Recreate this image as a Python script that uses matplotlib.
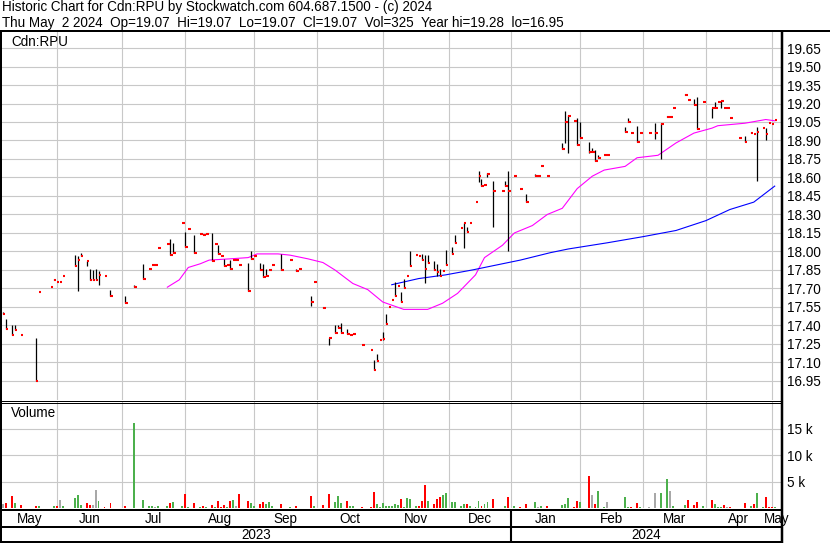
import numpy as np
import pandas as pd
import matplotlib
matplotlib.use("Agg")
import matplotlib.pyplot as plt
from matplotlib.lines import Line2D

plt.rcParams['font.family'] = ['Liberation Sans', 'DejaVu Sans']

# session number on a weekday calendar that starts Mon 1 May 2023
day = [5, 6, 8, 9, 11, 16, 17, 21, 22, 23, 24, 25, 29, 30, 31, 33, 34, 35, 36, 37,
       39, 41, 46, 49, 52, 54, 55, 56, 57, 60, 61, 62, 65, 66, 67, 69, 71, 72, 73, 75,
       76, 77, 78, 79, 80, 81, 82, 83, 84, 87, 88, 89, 91, 92, 93, 94, 95, 98, 101, 103,
       104, 108, 109, 112, 114, 116, 117, 118, 120, 121, 122, 125, 128, 129, 130, 131, 132, 133, 134, 135,
       136, 137, 138, 139, 140, 141, 143, 144, 145, 146, 147, 149, 150, 151, 152, 153, 155, 156, 158, 159,
       160, 161, 163, 164, 165, 166, 167, 169, 172, 173, 174, 176, 178, 180, 183, 184, 185, 187, 192, 193,
       194, 196, 197, 198, 201, 202, 203, 204, 206, 207, 213, 214, 215, 217, 218, 221, 223, 225, 227, 228,
       229, 233, 234, 236, 237, 239, 242, 243, 244, 245, 246, 247, 248, 251, 253, 255, 256, 257, 259, 260,
       261, 262, 263]
high = [17.51, 17.45, 17.40, 17.40, 17.32, 17.30, 17.67, 17.71, 17.78, 17.75, 17.75, 17.80, 17.97, 17.96, 17.99, 17.92, 17.86, 17.85, 17.86, 17.84,
        17.80, 17.69, 17.64, 17.73, 17.90, 17.86, 17.89, 17.89, 18.03, 18.06, 18.10, 18.07, 18.23, 18.16, 18.18, 18.13, 18.14, 18.13, 18.14, 18.15,
        18.06, 18.05, 17.96, 17.94, 17.89, 17.93, 17.93, 17.93, 17.89, 17.91, 18.00, 17.96, 17.91, 17.90, 17.86, 17.85, 17.89, 17.98, 17.93, 17.86,
        17.86, 17.64, 17.75, 17.55, 17.30, 17.40, 17.40, 17.42, 17.37, 17.32, 17.33, 17.24, 17.20, 17.12, 17.17, 17.28, 17.35, 17.49, 17.55, 17.61,
        17.75, 17.72, 17.67, 17.78, 17.80, 18.00, 17.97, 17.96, 17.98, 17.97, 17.97, 17.92, 17.90, 17.86, 17.85, 18.01, 18.04, 18.13, 18.19, 18.23,
        18.20, 18.23, 18.40, 18.65, 18.59, 18.54, 18.64, 18.57, 18.49, 18.57, 18.65, 18.61, 18.51, 18.47, 18.63, 18.61, 18.69, 18.61, 18.88, 19.14,
        19.11, 19.06, 19.08, 19.05, 18.89, 18.84, 18.82, 18.78, 18.78, 18.78, 19.01, 19.08, 18.96, 19.02, 18.96, 18.96, 19.04, 19.04, 19.10, 19.09,
        19.16, 19.28, 19.23, 19.24, 19.25, 19.21, 19.16, 19.21, 19.21, 19.22, 19.16, 19.16, 19.08, 18.92, 18.94, 18.97, 18.95, 19.01, 19.00, 19.00,
        19.04, 19.03, 19.07]
low = [17.49, 17.37, 17.32, 17.36, 17.32, 16.95, 17.67, 17.71, 17.77, 17.75, 17.75, 17.80, 17.88, 17.68, 17.96, 17.88, 17.77, 17.77, 17.77, 17.73,
       17.80, 17.64, 17.58, 17.71, 17.78, 17.86, 17.89, 17.89, 18.03, 18.06, 17.97, 17.99, 18.23, 18.04, 18.18, 17.99, 18.14, 18.13, 18.14, 17.92,
       18.06, 17.98, 17.96, 17.88, 17.89, 17.86, 17.93, 17.93, 17.89, 17.68, 17.94, 17.96, 17.85, 17.79, 17.80, 17.85, 17.89, 17.85, 17.93, 17.84,
       17.86, 17.56, 17.75, 17.54, 17.24, 17.34, 17.38, 17.34, 17.33, 17.32, 17.33, 17.24, 17.20, 17.04, 17.11, 17.28, 17.28, 17.41, 17.55, 17.61,
       17.64, 17.72, 17.59, 17.70, 17.80, 17.88, 17.97, 17.96, 17.93, 17.74, 17.91, 17.85, 17.80, 17.80, 17.84, 17.89, 17.98, 18.07, 18.19, 18.03,
       18.16, 18.23, 18.40, 18.56, 18.53, 18.54, 18.60, 18.20, 18.49, 18.53, 18.00, 18.61, 18.51, 18.40, 18.61, 18.61, 18.69, 18.61, 18.83, 18.88,
       18.80, 19.06, 18.86, 18.92, 18.80, 18.81, 18.73, 18.76, 18.78, 18.78, 18.97, 19.05, 18.96, 18.89, 18.96, 18.96, 18.91, 18.75, 19.09, 19.09,
       19.16, 19.27, 19.23, 19.19, 18.99, 19.21, 19.08, 19.16, 19.21, 19.16, 19.16, 19.16, 19.08, 18.92, 18.89, 18.96, 18.95, 18.57, 19.00, 18.90,
       19.04, 19.03, 19.07]
close = [17.49, 17.37, 17.32, 17.36, 17.32, 16.95, 17.67, 17.71, 17.77, 17.75, 17.75, 17.80, 17.88, 17.93, 17.96, 17.92, 17.77, 17.77, 17.77, 17.81,
         17.80, 17.64, 17.58, 17.71, 17.78, 17.86, 17.89, 17.89, 18.03, 18.06, 17.97, 17.99, 18.23, 18.04, 18.18, 17.99, 18.14, 18.13, 18.14, 17.92,
         18.06, 17.98, 17.96, 17.88, 17.89, 17.86, 17.93, 17.93, 17.89, 17.68, 17.94, 17.96, 17.85, 17.79, 17.80, 17.85, 17.89, 17.85, 17.93, 17.84,
         17.86, 17.59, 17.75, 17.54, 17.30, 17.34, 17.38, 17.34, 17.33, 17.32, 17.33, 17.24, 17.20, 17.04, 17.11, 17.28, 17.29, 17.41, 17.55, 17.61,
         17.64, 17.72, 17.59, 17.70, 17.80, 17.88, 17.97, 17.96, 17.93, 17.86, 17.91, 17.85, 17.83, 17.80, 17.84, 17.89, 17.98, 18.07, 18.19, 18.23,
         18.16, 18.23, 18.40, 18.61, 18.53, 18.54, 18.63, 18.49, 18.49, 18.53, 18.49, 18.61, 18.51, 18.40, 18.61, 18.61, 18.69, 18.61, 18.83, 19.05,
         19.10, 19.06, 18.86, 18.92, 18.81, 18.81, 18.73, 18.76, 18.78, 18.78, 18.97, 19.05, 18.96, 18.89, 18.96, 18.96, 18.96, 19.03, 19.09, 19.09,
         19.16, 19.27, 19.23, 19.19, 18.99, 19.21, 19.16, 19.16, 19.21, 19.22, 19.16, 19.16, 19.08, 18.92, 18.89, 18.96, 18.95, 18.97, 19.00, 18.95,
         19.04, 19.03, 19.07]
volume_k = [0.8, 1.0, 2.3, 1.0, 0.6, 0.4, 0.4, 0.1, 0.4, 0.4, 1.6, 0.4, 1.9, 2.5, 0.6, 1.0, 0.6, 0.6, 3.4, 1.4,
            0.25, 1.0, 0.4, 16.1, 1.6, 0.4, 0.4, 0.25, 0.4, 0.4, 1.0, 1.2, 0.4, 2.7, 0.25, 1.0, 0.25, 0.4, 0.25, 0.6,
            0.25, 1.4, 0.25, 0.6, 0.25, 1.4, 1.6, 0.4, 2.7, 1.4, 1.0, 0.4, 0.8, 1.2, 0.8, 1.2, 0.4, 0.8, 0.25, 0.4,
            0.1, 2.3, 0.4, 0.6, 2.7, 1.2, 2.3, 1.0, 1.4, 0.4, 0.4, 0.25, 0.25, 3.1, 0.8, 0.25, 1.0, 0.4, 0.4, 0.4,
            0.8, 0.6, 1.8, 0.25, 1.9, 1.8, 0.4, 0.4, 1.4, 4.3, 1.4, 0.8, 1.8, 2.1, 2.5, 2.9, 1.2, 1.2, 0.4, 0.8,
            0.8, 0.4, 0.25, 1.4, 0.4, 0.8, 1.2, 1.8, 0.1, 0.4, 2.1, 0.4, 0.25, 0.8, 1.2, 0.25, 0.4, 0.4, 0.6, 0.8,
            1.9, 0.25, 1.4, 1.2, 6.1, 2.5, 0.8, 3.3, 0.25, 1.2, 2.1, 0.25, 0.25, 1.0, 0.25, 0.25, 2.9, 2.9, 5.5, 3.3,
            0.4, 0.6, 1.6, 0.6, 1.2, 0.4, 1.6, 0.8, 0.25, 0.25, 0.6, 0.25, 0.25, 0.1, 1.0, 0.4, 0.8, 2.9, 0.25, 2.1,
            0.25, 0.25, 0.325]
# u = up, d = down, n = unchanged (colour of the volume bar)
vol_dir = ['n', 'd', 'd', 'u', 'd', 'd', 'u', 'u', 'u', 'd', 'n', 'u', 'u', 'u', 'u', 'd', 'd', 'n', 'n', 'u',
           'd', 'd', 'd', 'u', 'u', 'u', 'u', 'n', 'u', 'u', 'd', 'u', 'u', 'd', 'u', 'd', 'u', 'd', 'u', 'd',
           'u', 'd', 'd', 'd', 'u', 'd', 'u', 'n', 'd', 'd', 'u', 'u', 'd', 'd', 'u', 'u', 'u', 'd', 'u', 'd',
           'u', 'd', 'u', 'd', 'd', 'u', 'u', 'u', 'd', 'u', 'u', 'd', 'd', 'd', 'u', 'u', 'u', 'u', 'u', 'u',
           'u', 'u', 'd', 'u', 'u', 'u', 'u', 'd', 'd', 'd', 'u', 'd', 'd', 'd', 'u', 'u', 'u', 'u', 'u', 'u',
           'd', 'u', 'u', 'u', 'd', 'u', 'u', 'd', 'n', 'u', 'd', 'u', 'd', 'd', 'u', 'n', 'u', 'd', 'u', 'u',
           'u', 'd', 'd', 'u', 'd', 'n', 'd', 'u', 'u', 'n', 'u', 'u', 'd', 'd', 'u', 'n', 'n', 'u', 'u', 'n',
           'u', 'u', 'd', 'd', 'd', 'u', 'd', 'u', 'u', 'u', 'd', 'n', 'd', 'd', 'd', 'u', 'd', 'u', 'u', 'd',
           'd', 'd', 'u']

ma50_day = [60, 64, 67, 71, 74, 81, 87, 90, 97, 101, 107, 112, 116, 122, 127, 132, 139, 147, 152, 157,
            163, 166, 172, 176, 182, 187, 192, 197, 202, 206, 213, 217, 224, 230, 236, 242, 244, 253, 260, 263]
ma50 = [17.71, 17.77, 17.87, 17.90, 17.93, 17.94, 17.95, 17.98, 17.98, 17.97, 17.94, 17.91, 17.85, 17.74, 17.69, 17.59, 17.53, 17.53, 17.58, 17.66,
        17.81, 17.95, 18.05, 18.15, 18.21, 18.30, 18.35, 18.51, 18.61, 18.66, 18.69, 18.76, 18.78, 18.88, 18.96, 19.00, 19.02, 19.04, 19.07, 19.06]
ma200_day = [135, 144, 153, 162, 178, 188, 194, 207, 219, 230, 240, 248, 256, 263]
ma200 = [17.73, 17.78, 17.81, 17.85, 17.93, 17.99, 18.02, 18.07, 18.12, 18.17, 18.25, 18.34, 18.40, 18.53]

price_ticks = np.round(np.arange(16.95, 19.66, 0.15), 2)
vol_ticks = [5, 10, 15]

title1 = "Historic Chart for Cdn:RPU by Stockwatch.com 604.687.1500 - (c) 2024"
title2 = "Thu May  2 2024  Op=19.07  Hi=19.07  Lo=19.07  Cl=19.07  Vol=325  Year hi=19.28  lo=16.95"

dates = pd.bdate_range("2023-05-01", "2024-05-02")
month_start = np.flatnonzero(np.r_[True, dates.month[1:] != dates.month[:-1]])
year_start = np.flatnonzero(np.r_[True, dates.year[1:] != dates.year[:-1]])

W, H = 830, 543
XLIM = (4.74, 265.1)
GRID = '#c8c8c8'
FS = 9.75


def box(x0, y0, x1, y1):
    return [x0 / W, 1 - y1 / H, (x1 - x0) / W, (y1 - y0) / H]


def fline(fig, x0, y0, x1, y1, lw):
    fig.add_artist(Line2D([x0 / W, x1 / W], [1 - y0 / H, 1 - y1 / H], color='black',
                          lw=lw * 0.72, transform=fig.transFigure, zorder=10,
                          solid_capstyle='butt'))


fig = plt.figure(figsize=(W / 100, H / 100), dpi=100)
fig.patch.set_facecolor('white')

ax_p = fig.add_axes(box(2, 32, 781, 400))
ax_v = fig.add_axes(box(2, 402, 781, 508.3))
ax_l = fig.add_axes(box(2, 510, 781, 542))

for ax in (ax_p, ax_v, ax_l):
    ax.set_xlim(*XLIM)
    for s in ax.spines.values():
        s.set_visible(False)
    ax.set_xticks([])
    if ax is not ax_l:
        for m in month_start[1:]:
            ax.axvline(m, color=GRID, lw=0.8, zorder=0)

# price panel
ax_p.set_ylim(16.795, 19.78)
ax_p.set_yticks(price_ticks)
ax_p.set_yticklabels([f"{t:.2f}" for t in price_ticks])
ax_p.yaxis.tick_right()
ax_p.tick_params(axis='y', length=0, pad=4, labelsize=FS)
ax_p.grid(axis='y', color=GRID, lw=0.8)
ax_p.set_axisbelow(True)

d = np.array(day)
hi = np.array(high)
lo = np.array(low)
cl = np.array(close)
rng = hi > lo
ax_p.vlines(d[rng], lo[rng], hi[rng], colors='black', lw=0.9, zorder=3)
ax_p.hlines(cl, d, d + 0.9, colors='#ff0000', lw=1.5, zorder=4, capstyle='butt')
ax_p.plot(ma50_day, ma50, color='#ff00ff', lw=0.8, zorder=2)
ax_p.plot(ma200_day, ma200, color='#0000ff', lw=0.8, zorder=2)
ax_p.text(9 / 779, 1 - 9.5 / 368, "Cdn:RPU", transform=ax_p.transAxes, fontsize=FS,
          va='center', ha='left')

# volume panel
colors = {'u': '#4cb04c', 'd': '#ff0000', 'n': '#a8a8a8'}
ax_v.set_ylim(0, 20)
ax_v.bar(d, volume_k, width=0.65, color=[colors[c] for c in vol_dir], zorder=3)
ax_v.set_yticks(vol_ticks)
ax_v.set_yticklabels([f"{t} k" for t in vol_ticks])
ax_v.yaxis.tick_right()
ax_v.tick_params(axis='y', length=0, pad=4, labelsize=FS)
ax_v.grid(axis='y', color=GRID, lw=0.8)
ax_v.set_axisbelow(True)
ax_v.text(9 / 779, 1 - 11 / 106, "Volume", transform=ax_v.transAxes, fontsize=FS,
          va='center', ha='left')

# month / year rows
ax_l.set_ylim(0, 1)
ax_l.set_yticks([])
bounds = np.r_[XLIM[0], month_start[1:], XLIM[1]]
for k in range(len(bounds) - 1):
    mid = (bounds[k] + bounds[k + 1]) / 2
    ax_l.text(mid, 0.73, dates[month_start[k]].strftime('%b'),
              ha='center', va='center', fontsize=FS, clip_on=False)
ybounds = np.r_[XLIM[0], year_start[1:], XLIM[1]]
for k in range(len(ybounds) - 1):
    mid = (ybounds[k] + ybounds[k + 1]) / 2
    ax_l.text(mid, 0.22, str(dates[year_start[k]].year), ha='center', va='center', fontsize=FS)
for y0 in year_start[1:]:
    ax_l.axvline(y0, color='black', lw=1.5)

# header
fig.text(2 / W, 1 - 7.5 / H, title1, fontsize=FS, va='center', ha='left')
fig.text(2 / W, 1 - 22.5 / H, title2, fontsize=FS, va='center', ha='left')

# frame lines
fline(fig, 0, 31, W, 31, 2)
fline(fig, 1, 31, 1, H, 2)
fline(fig, 782, 31, 782, H, 2.5)
fline(fig, 0, 400.5, 782, 400.5, 1)
fline(fig, 0, 402.5, 782, 402.5, 1)
fline(fig, 0, 509.5, 782, 509.5, 2)
fline(fig, 0, 527, 782, 527, 2)
fline(fig, 0, 541.8, 782, 541.8, 2)

fig.savefig("out.png", dpi=100)
